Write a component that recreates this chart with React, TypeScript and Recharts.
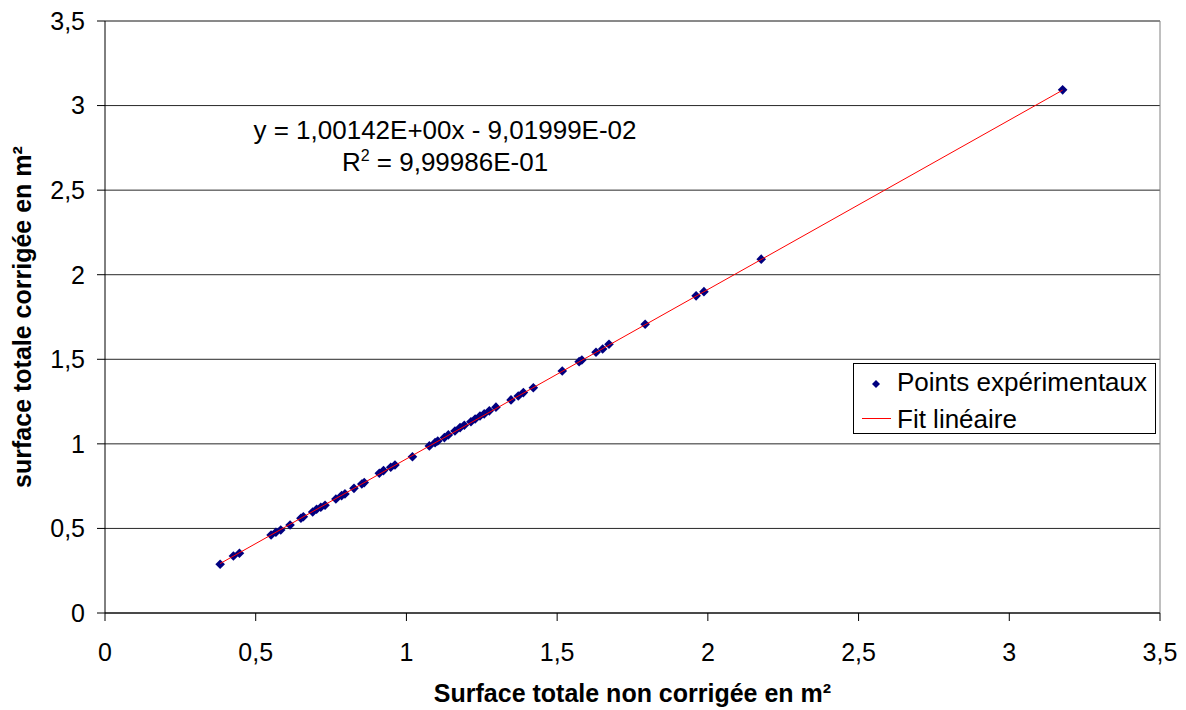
import { ScatterChart, Scatter, XAxis, YAxis, CartesianGrid, ReferenceLine } from 'recharts'

const FONT = '"Liberation Sans", Arial, sans-serif'

// surface non corrigée (x) / corrigée (y)
const surfaceBrute = [
  0.382, 0.426, 0.446, 0.551, 0.567, 0.583, 0.614, 0.65, 0.658, 0.689, 0.702, 0.716, 0.73,
  0.766, 0.785, 0.796, 0.826, 0.852, 0.86, 0.91, 0.924, 0.948, 0.962, 1.02, 1.076, 1.095,
  1.104, 1.126, 1.139, 1.161, 1.178, 1.192, 1.214, 1.228, 1.244, 1.258, 1.275, 1.297, 1.347,
  1.371, 1.388, 1.421, 1.517, 1.573, 1.582, 1.629, 1.651, 1.672, 1.792, 1.961, 1.987, 2.177,
  3.177,
]
const surfaceCorrigee = [
  0.288, 0.337, 0.353, 0.461, 0.477, 0.491, 0.52, 0.56, 0.569, 0.597, 0.613, 0.625, 0.637,
  0.674, 0.694, 0.704, 0.737, 0.763, 0.771, 0.826, 0.842, 0.862, 0.875, 0.924, 0.988, 1.007,
  1.017, 1.037, 1.053, 1.076, 1.096, 1.11, 1.131, 1.147, 1.165, 1.177, 1.195, 1.217, 1.26,
  1.283, 1.303, 1.332, 1.431, 1.486, 1.496, 1.542, 1.561, 1.589, 1.707, 1.875, 1.9, 2.092,
  3.093,
]

// extrémités du fit linéaire
const fitX = [0.382, 3.177]
const fitY = [0.2923, 3.0913]

const axisTicks = [0, 0.5, 1, 1.5, 2, 2.5, 3, 3.5]

const points = surfaceBrute.map((x, i) => ({ x, y: surfaceCorrigee[i] }))
const fitLine = fitX.map((x, i) => ({ x, y: fitY[i] }))

const fmt = (v: number) => String(v).replace('.', ',')

const Diamond = (props: any) => {
  const { cx, cy } = props
  const r = 4.8
  return (
    <polygon
      points={`${cx},${cy - r} ${cx + r},${cy} ${cx},${cy + r} ${cx - r},${cy}`}
      fill="#000080"
    />
  )
}

export default function App() {
  return (
    <div style={{ position: 'absolute', left: 0, top: 0, width: 1186, height: 710, background: '#fff', fontFamily: FONT }}>
      <ScatterChart width={1186} height={710} margin={{ top: 21, right: 26, bottom: 0, left: 0 }}>
        <CartesianGrid horizontal vertical={false} stroke="#000" strokeOpacity={0.85} />
        <XAxis
          type="number"
          dataKey="x"
          domain={[0, 3.5]}
          ticks={axisTicks}
          tickFormatter={fmt}
          height={97}
          stroke="#000"
          tickSize={8}
          tickMargin={22}
          tick={{ fill: '#000', fontSize: 25, fontFamily: FONT }}
          label={{
            value: 'Surface totale non corrigée en m²',
            position: 'insideBottom',
            offset: 8,
            style: { fill: '#000', fontSize: 25, fontWeight: 'bold', fontFamily: FONT },
          }}
        />
        <YAxis
          type="number"
          dataKey="y"
          domain={[0, 3.5]}
          ticks={axisTicks}
          tickFormatter={fmt}
          width={105}
          stroke="#000"
          tickSize={8}
          tickMargin={12}
          tick={{ fill: '#000', fontSize: 25, fontFamily: FONT }}
          label={{
            value: 'surface totale corrigée en m²',
            angle: -90,
            position: 'insideLeft',
            offset: 22,
            style: { fill: '#000', fontSize: 25, fontWeight: 'bold', fontFamily: FONT, textAnchor: 'middle' },
          }}
        />
        <ReferenceLine y={3.5} stroke="#808080" />
        <ReferenceLine x={3.5} stroke="#808080" />
        <Scatter data={points} shape={<Diamond />} isAnimationActive={false} />
        <Scatter
          data={fitLine}
          line={{ stroke: '#ff0000', strokeWidth: 1 }}
          shape={() => <g />}
          isAnimationActive={false}
        />
      </ScatterChart>

      <div style={{ position: 'absolute', left: 0, top: 0, width: 1186, height: 710, pointerEvents: 'none' }}>
        <div style={{ position: 'absolute', left: 245, width: 400, top: 114, textAlign: 'center', fontSize: 26, lineHeight: '32px', color: '#000' }}>
          <div>y = 1,00142E+00x - 9,01999E-02</div>
          <div>
            R<sup style={{ fontSize: 16, lineHeight: 0 }}>2</sup> = 9,99986E-01
          </div>
        </div>

        <div
          style={{
            position: 'absolute',
            left: 853,
            top: 363,
            width: 301,
            height: 69,
            border: '1px solid #000',
            background: '#fff',
            fontSize: 26,
            color: '#000',
          }}
        >
          <svg width={301} height={69} style={{ position: 'absolute', left: 0, top: 0 }}>
            <polygon points="22,16 26,20 22,24 18,20" fill="#000080" />
            <line x1={8} x2={37} y1={54.5} y2={54.5} stroke="#ff0000" strokeWidth={1} />
          </svg>
          <div style={{ position: 'absolute', left: 43, top: 3, whiteSpace: 'nowrap' }}>Points expérimentaux</div>
          <div style={{ position: 'absolute', left: 43, top: 40, whiteSpace: 'nowrap' }}>Fit linéaire</div>
        </div>
      </div>
    </div>
  )
}
